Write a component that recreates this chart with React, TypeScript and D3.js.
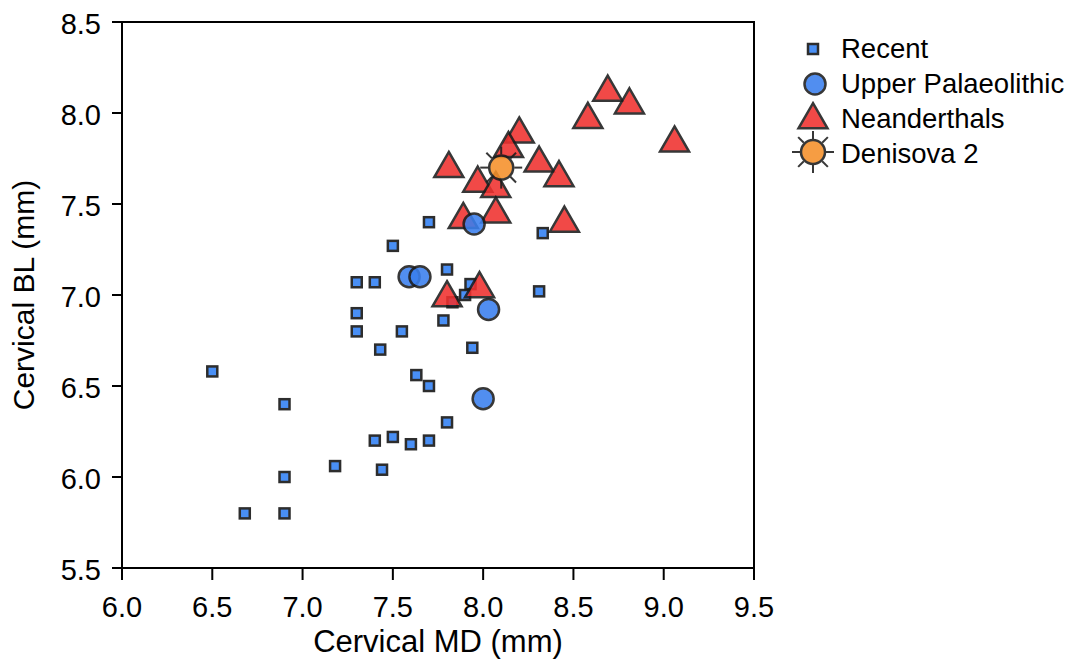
import React from "react";
import * as d3 from "d3";

const recentMD = [6.5, 6.68, 6.9, 6.9, 6.9, 7.18, 7.3, 7.3, 7.3, 7.4, 7.43, 7.4, 7.44, 7.5, 7.5, 7.55, 7.6, 7.63, 7.7, 7.7, 7.7, 7.8, 7.8, 7.78, 7.9, 7.93, 7.83, 7.94, 8.31, 8.33];
const recentBL = [6.58, 5.8, 6.4, 6.0, 5.8, 6.06, 7.07, 6.9, 6.8, 7.07, 6.7, 6.2, 6.04, 6.22, 7.27, 6.8, 6.18, 6.56, 6.5, 6.2, 7.4, 6.3, 7.14, 6.86, 7.0, 7.06, 6.96, 6.71, 7.02, 7.34];

const upMD = [7.95, 7.59, 7.65, 8.03, 8.0];
const upBL = [7.39, 7.1, 7.1, 6.92, 6.43];

const neaMD = [8.69, 8.81, 8.58, 9.06, 8.2, 8.14, 7.81, 8.31, 8.42, 7.97, 8.07, 7.89, 8.07, 8.45, 7.8, 7.98];
const neaBL = [8.13, 8.06, 7.98, 7.85, 7.9, 7.82, 7.71, 7.74, 7.66, 7.63, 7.6, 7.43, 7.46, 7.41, 7.0, 7.05];

const denMD = [8.1];
const denBL = [7.7];

const xTicks = [6.0, 6.5, 7.0, 7.5, 8.0, 8.5, 9.0, 9.5];
const yTicks = [5.5, 6.0, 6.5, 7.0, 7.5, 8.0, 8.5];

const legendLabels = ["Recent", "Upper Palaeolithic", "Neanderthals", "Denisova 2"];

const W = 1085, H = 667;
const L = 122, R = 754, T = 22, B = 568;
const FONT = "'Liberation Sans', Arial, Helvetica, sans-serif";
const STROKE = "#1c1c1c";
const BLUE_SQ = "#3a86f5";
const BLUE_C = "#3a7fee";
const RED = "#f0302e";
const ORANGE = "#f5902a";

const x = d3.scaleLinear().domain([6, 9.5]).range([L, R]);
const y = d3.scaleLinear().domain([5.5, 8.5]).range([B, T]);

const triPath = (s: number) => {
  const h = s * 0.866;
  return `M0,${-h * 0.55}L${s / 2},${h * 0.45}L${-s / 2},${h * 0.45}Z`;
};

const Square = ({ cx, cy }: { cx: number; cy: number }) => (
  <rect x={cx - 5} y={cy - 5} width={10} height={10} fill={BLUE_SQ} stroke={STROKE} strokeWidth={2.5} opacity={0.92} />
);
const Circle = ({ cx, cy }: { cx: number; cy: number }) => (
  <circle cx={cx} cy={cy} r={10.5} fill={BLUE_C} stroke={STROKE} strokeWidth={2.5} opacity={0.88} />
);
const Tri = ({ cx, cy }: { cx: number; cy: number }) => (
  <path transform={`translate(${cx},${cy})`} d={triPath(29)} fill={RED} stroke={STROKE} strokeWidth={2.5} strokeLinejoin="miter" opacity={0.88} />
);
const Sun = ({ cx, cy }: { cx: number; cy: number }) => {
  const rays = d3.range(8).map((i) => (i * Math.PI) / 4);
  return (
    <g transform={`translate(${cx},${cy})`} opacity={0.88}>
      {rays.map((a, i) => (
        <line key={i} x1={Math.cos(a) * 13} y1={Math.sin(a) * 13} x2={Math.cos(a) * 21} y2={Math.sin(a) * 21} stroke={STROKE} strokeWidth={2} />
      ))}
      <circle r={12} fill={ORANGE} stroke={STROKE} strokeWidth={2.5} />
    </g>
  );
};

export default function App() {
  return (
    <svg width={W} height={H} style={{ position: "absolute", left: 0, top: 0, background: "#fff" }}>
      <rect x={0} y={0} width={W} height={H} fill="#fff" />
      <rect x={L} y={T} width={R - L} height={B - T} fill="none" stroke="#000" strokeWidth={2} />
      {yTicks.map((t) => (
        <g key={"y" + t}>
          <line x1={L - 10} x2={L} y1={y(t)} y2={y(t)} stroke="#000" strokeWidth={2} />
          <text x={101} y={y(t) + 12} textAnchor="end" fontFamily={FONT} fontSize={29} fill="#000">
            {t.toFixed(1)}
          </text>
        </g>
      ))}
      {xTicks.map((t) => (
        <g key={"x" + t}>
          <line x1={x(t)} x2={x(t)} y1={B} y2={B + 12} stroke="#000" strokeWidth={2} />
          <text x={x(t)} y={617} textAnchor="middle" fontFamily={FONT} fontSize={29} fill="#000">
            {t.toFixed(1)}
          </text>
        </g>
      ))}
      <text x={(L + R) / 2} y={652} textAnchor="middle" fontFamily={FONT} fontSize={31} fill="#000">
        Cervical MD (mm)
      </text>
      <text transform={`translate(34,${(T + B) / 2}) rotate(-90)`} textAnchor="middle" fontFamily={FONT} fontSize={30} fill="#000">
        Cervical BL (mm)
      </text>

      {recentMD.map((v, i) => (
        <Square key={"r" + i} cx={x(v)} cy={y(recentBL[i])} />
      ))}
      {neaMD.map((v, i) => (
        <Tri key={"n" + i} cx={x(v)} cy={y(neaBL[i])} />
      ))}
      {upMD.map((v, i) => (
        <Circle key={"u" + i} cx={x(v)} cy={y(upBL[i])} />
      ))}
      {denMD.map((v, i) => (
        <Sun key={"d" + i} cx={x(v)} cy={y(denBL[i])} />
      ))}

      <g>
        <Square cx={813} cy={49} />
        <Circle cx={815} cy={84} />
        <Tri cx={813} cy={117} />
        <Sun cx={813} cy={152} />
        {legendLabels.map((l, i) => (
          <text key={l} x={841} y={58 + i * 35} fontFamily={FONT} fontSize={27.5} fill="#000">
            {l}
          </text>
        ))}
      </g>
    </svg>
  );
}
